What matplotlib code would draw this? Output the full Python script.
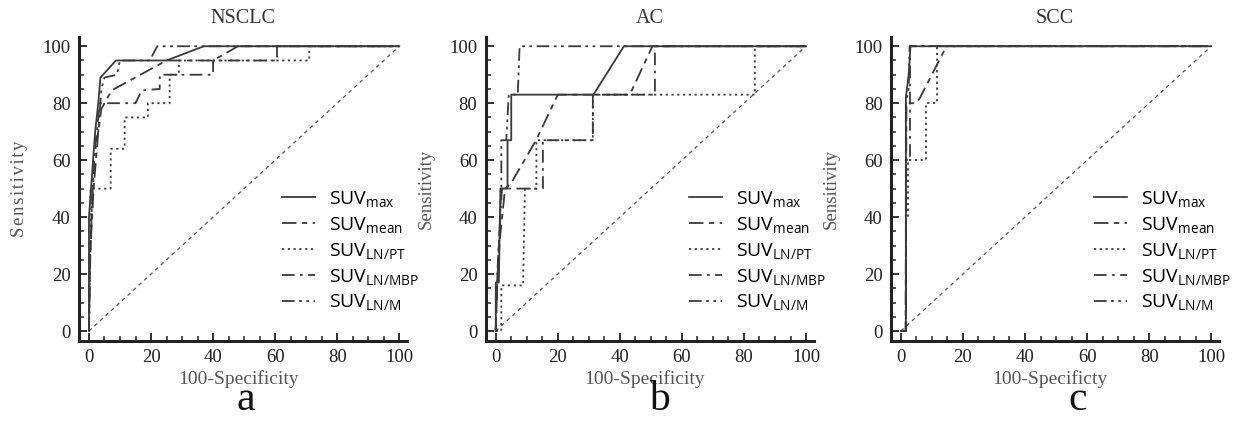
import matplotlib
matplotlib.use("Agg")
import matplotlib.pyplot as plt
from matplotlib.ticker import MultipleLocator

plt.rcParams['mathtext.fontset'] = 'custom'
plt.rcParams['mathtext.rm'] = 'Open Sans'
plt.rcParams['mathtext.it'] = 'Open Sans:italic'
plt.rcParams['font.family'] = ['Liberation Serif', 'DejaVu Serif']

# ---- NSCLC ----
nsclc_max_x = [0, 0, 1, 2, 3, 3.7, 8.7, 25, 37, 100]
nsclc_max_y = [0, 40, 55, 70, 80, 89, 95, 95, 100, 100]
nsclc_mean_x = [0, 0.3, 1.5, 3, 4, 5, 7.3, 25, 40, 48, 100]
nsclc_mean_y = [0, 25, 50, 70, 78, 80, 84.5, 95, 95, 100, 100]
nsclc_pt_x = [0, 0.3, 0.5, 7, 7, 11.5, 11.5, 19, 19, 26, 26, 29, 29, 71, 71, 100]
nsclc_pt_y = [0, 20, 50, 50, 64, 64, 75, 75, 80, 80, 90, 90, 95, 95, 100, 100]
nsclc_mbp_x = [0, 0.2, 1, 2, 3, 3.5, 15, 17, 22.8, 22.8, 40, 40, 60.6, 60.6, 100]
nsclc_mbp_y = [0, 20, 45, 65, 75, 80, 80, 84.5, 85, 90, 90, 95, 95, 100, 100]
nsclc_m_x = [0, 0.5, 1.5, 3, 4, 5, 9, 10, 19.6, 22, 100]
nsclc_m_y = [0, 30, 60, 70, 85, 89, 90, 95, 95, 100, 100]

# ---- AC ----
ac_max_x = [0, 0, 1, 1.5, 3.8, 3.8, 5, 5, 31.5, 41.3, 100]
ac_max_y = [0, 17, 17, 50, 50, 67, 67, 83, 83, 100, 100]
ac_mean_x = [0, 0.5, 1.3, 3, 5, 13, 20, 43.2, 50.5, 100]
ac_mean_y = [0, 17, 32, 50, 52, 67, 83, 83, 100, 100]
ac_pt_x = [0, 1.8, 1.8, 8.8, 9.4, 13.1, 13.1, 31.3, 31.3, 83.5, 83.5, 100]
ac_pt_y = [0, 0, 16, 16, 50, 50, 67, 67, 83, 83, 100, 100]
ac_mbp_x = [0, 0.5, 1, 2, 15.2, 15.2, 31.3, 31.3, 51.3, 51.3, 100]
ac_mbp_y = [0, 17, 30, 50, 50, 67, 67, 83, 83, 100, 100]
ac_m_x = [0, 0.5, 1.2, 1.8, 1.8, 3.4, 4.2, 7.1, 7.7, 100]
ac_m_y = [0, 20, 35, 50, 67, 67, 83, 83, 100, 100]

# ---- SCC ----
scc_max_x = [0, 1.6, 1.6, 2.5, 3.1, 100]
scc_max_y = [0, 0, 82, 90, 100, 100]
scc_mean_x = [0, 1.5, 1.8, 5, 6.2, 14.2, 14.5, 100]
scc_mean_y = [0, 0, 80, 80, 82, 99, 100, 100]
scc_pt_x = [0, 1.6, 1.6, 2.4, 2.4, 8.1, 8.1, 11.7, 11.7, 100]
scc_pt_y = [0, 0, 40, 40, 60, 60, 80, 80, 100, 100]
scc_mbp_x = [0, 1.6, 1.6, 2.9, 2.9, 100]
scc_mbp_y = [0, 0, 60, 60, 100, 100]
scc_m_x = [0, 1.6, 1.6, 2.5, 2.8, 100]
scc_m_y = [0, 0, 80, 85, 100, 100]

titles = ['NSCLC', 'AC', 'SCC']
xlabels = ['100-Specificity', '100-Specificity', '100-Specificty']
ylabels = ['\u200a'.join('Sensitivity'), 'Sensitivity', 'Sensitivity']
letters = ['a', 'b', 'c']
labels = [r'SUV$_{\mathrm{max}}$', r'SUV$_{\mathrm{mean}}$', r'SUV$_{\mathrm{LN/PT}}$',
          r'SUV$_{\mathrm{LN/MBP}}$', r'SUV$_{\mathrm{LN/M}}$']
styles = ['-', (0, (8, 3, 3, 3)), (0, (1.2, 2)), (0, (7, 3, 1.5, 3)),
          (0, (7, 2.5, 1.5, 2.5, 1.5, 2.5))]

panels = [
    [(nsclc_max_x, nsclc_max_y), (nsclc_mean_x, nsclc_mean_y), (nsclc_pt_x, nsclc_pt_y),
     (nsclc_mbp_x, nsclc_mbp_y), (nsclc_m_x, nsclc_m_y)],
    [(ac_max_x, ac_max_y), (ac_mean_x, ac_mean_y), (ac_pt_x, ac_pt_y),
     (ac_mbp_x, ac_mbp_y), (ac_m_x, ac_m_y)],
    [(scc_max_x, scc_max_y), (scc_mean_x, scc_mean_y), (scc_pt_x, scc_pt_y),
     (scc_mbp_x, scc_mbp_y), (scc_m_x, scc_m_y)],
]

fig = plt.figure(figsize=(12.33, 4.22), dpi=100)
lefts = [0.0641, 0.394, 0.7226]
letter_x = [0.51, 0.53, 0.57]

for i in range(3):
    ax = fig.add_axes([lefts[i], 0.192, 0.266, 0.720])
    ax.plot([0, 100], [0, 100], linestyle=(0, (3, 3)), color='#555555', lw=0.9)
    for j in range(5):
        xs, ys = panels[i][j]
        ax.plot(xs, ys, linestyle=styles[j], color='#3a3a3a', lw=1.3, label=labels[j])
    ax.set_xlim(-3.2, 102.5)
    ax.set_ylim(-3.5, 103.2)
    ax.xaxis.set_major_locator(MultipleLocator(20))
    ax.xaxis.set_minor_locator(MultipleLocator(5))
    ax.yaxis.set_major_locator(MultipleLocator(20))
    ax.yaxis.set_minor_locator(MultipleLocator(5))
    for s in ['top', 'right']:
        ax.spines[s].set_visible(False)
    for s in ['left', 'bottom']:
        ax.spines[s].set_linewidth(2.2)
        ax.spines[s].set_color('#222222')
    ax.tick_params(which='major', direction='in', length=6, width=1.3, color='#222222',
                   labelsize=13.5, labelcolor='#222222', pad=6)
    ax.tick_params(which='minor', direction='in', length=3.5, width=1.1, color='#222222')
    ax.set_title(titles[i], fontsize=14.5, color='#333333', pad=10)
    ax.set_xlabel(xlabels[i], fontsize=14, color='#555555')
    ax.xaxis.set_label_coords(0.485, -0.095)
    ax.set_ylabel(ylabels[i], fontsize=13.5, color='#555555')
    ax.yaxis.set_label_coords(-0.155, 0.5)
    ax.text(letter_x[i], -0.258, letters[i], transform=ax.transAxes, fontsize=30,
            ha='center', va='bottom', color='#111111')
    ax.legend(loc='upper left', bbox_to_anchor=(0.62, 0.50), frameon=False,
              prop={'family': 'Open Sans', 'size': 14}, handlelength=1.7,
              handletextpad=0.7, labelspacing=0.3, borderpad=0, borderaxespad=0)

fig.savefig('out.png', dpi=100)
